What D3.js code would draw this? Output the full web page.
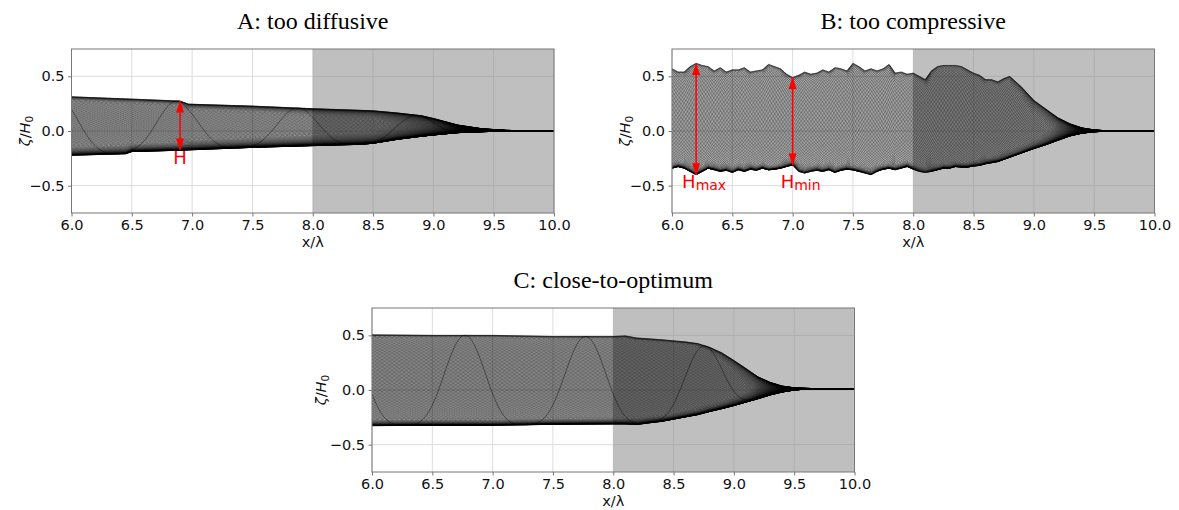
<!DOCTYPE html>
<html>
<head>
<meta charset="utf-8">
<script src="https://cdn.jsdelivr.net/npm/d3@7"></script>
<style>
  html, body { margin: 0; padding: 0; background: #fff; }
  svg { display: block; }
</style>
</head>
<body>
<svg id="chart" width="1179" height="510"></svg>
<script>
// ---------------------------------------------------------------
// Free-surface envelopes (crest / trough of zeta/H0) along x/lambda
// ---------------------------------------------------------------
const xA      = [6.0, 6.45, 6.5, 6.9, 6.97, 7.5, 8.0, 8.4, 8.5, 8.7, 8.9, 9.0, 9.2, 9.4, 9.6, 9.8, 10.0];
const crestA  = [0.313, 0.294, 0.292, 0.274, 0.246, 0.228, 0.204, 0.189, 0.185, 0.165, 0.14, 0.115, 0.055, 0.021, 0.006, 0.001, 0.0];
const troughA = [-0.222, -0.208, -0.188, -0.176, -0.173, -0.15, -0.134, -0.122, -0.112, -0.076, -0.048, -0.036, -0.015, -0.006, -0.001, 0.0, 0.0];

const xB = [6.0, 6.05, 6.1, 6.15, 6.2, 6.25, 6.3, 6.35, 6.4, 6.45, 6.5, 6.55, 6.6, 6.65, 6.7, 6.75, 6.8, 6.85, 6.9, 6.95,
            7.0, 7.05, 7.1, 7.15, 7.2, 7.25, 7.3, 7.35, 7.4, 7.45, 7.5, 7.55, 7.6, 7.65, 7.7, 7.75, 7.8, 7.85, 7.9, 7.95,
            8.0, 8.05, 8.1, 8.15, 8.2, 8.25, 8.3, 8.35, 8.4, 8.45, 8.5, 8.55, 8.6, 8.65, 8.7, 8.75, 8.8, 8.85, 8.9, 8.95,
            9.0, 9.1, 9.2, 9.3, 9.4, 9.5, 9.6, 9.7, 10.0];
const crestB = [0.57, 0.54, 0.54, 0.59, 0.62, 0.60, 0.59, 0.55, 0.58, 0.54, 0.56, 0.56, 0.58, 0.54, 0.55, 0.56, 0.61, 0.59, 0.57, 0.52,
                0.49, 0.51, 0.54, 0.52, 0.53, 0.56, 0.54, 0.58, 0.57, 0.55, 0.62, 0.59, 0.55, 0.57, 0.55, 0.57, 0.61, 0.53, 0.54, 0.52,
                0.53, 0.50, 0.47, 0.55, 0.59, 0.60, 0.60, 0.60, 0.59, 0.56, 0.53, 0.51, 0.47, 0.47, 0.45, 0.48, 0.50, 0.45, 0.40, 0.34,
                0.28, 0.20, 0.12, 0.065, 0.028, 0.01, 0.002, 0.0, 0.0];
const troughB = [-0.34, -0.325, -0.34, -0.37, -0.40, -0.37, -0.34, -0.355, -0.37, -0.36, -0.38, -0.355, -0.37, -0.35, -0.36, -0.34, -0.355, -0.35, -0.34, -0.325,
                 -0.31, -0.37, -0.385, -0.37, -0.36, -0.37, -0.355, -0.38, -0.36, -0.35, -0.355, -0.37, -0.385, -0.40, -0.37, -0.35, -0.34, -0.355, -0.34, -0.325,
                 -0.35, -0.37, -0.38, -0.37, -0.355, -0.34, -0.34, -0.325, -0.33, -0.33, -0.32, -0.315, -0.30, -0.29, -0.28, -0.26, -0.24, -0.22, -0.20, -0.18,
                 -0.16, -0.125, -0.085, -0.045, -0.02, -0.007, -0.002, 0.0, 0.0];

const xC      = [6.0, 6.5, 7.0, 7.5, 8.0, 8.1, 8.2, 8.3, 8.4, 8.5, 8.6, 8.7, 8.8, 8.9, 9.0, 9.1, 9.2, 9.3, 9.4, 9.5, 9.6, 9.7, 10.0];
const crestC  = [0.505, 0.50, 0.50, 0.49, 0.49, 0.495, 0.475, 0.468, 0.46, 0.45, 0.44, 0.425, 0.39, 0.34, 0.27, 0.196, 0.12, 0.07, 0.036, 0.02, 0.015, 0.012, 0.012];
const troughC = [-0.326, -0.323, -0.323, -0.314, -0.31, -0.31, -0.315, -0.30, -0.287, -0.266, -0.245, -0.225, -0.196, -0.17, -0.142, -0.11, -0.08, -0.045, -0.018, 0.0, 0.009, 0.012, 0.012];

// Axis ticks
const xTicks = [6.0, 6.5, 7.0, 7.5, 8.0, 8.5, 9.0, 9.5, 10.0];
const yTicks = [-0.5, 0.0, 0.5];

// Absorbing zone (shaded) and the wave record: snapshots per period,
// phase where the record overlaps itself, and whether it does
const spongeStart = 8.0;
const snapshotCount = { A: 96, B: 84, C: 96 };
const overlapPhase  = { A: 0.88, B: 0.2, C: 0.77 };
const overlapping   = { A: true, B: false, C: true };
const lineOpacity   = { A: 0.85, B: 0.8, C: 0.85 };

// Height markers: [x, top, bottom] and label placement
const markerA = [{ x: 6.9, top: 0.274, bottom: -0.173, label: "H", sub: "", ly: -0.30 }];
const markerB = [
  { x: 6.2, top: 0.617, bottom: -0.40, label: "H", sub: "max", ly: -0.52 },
  { x: 7.0, top: 0.49, bottom: -0.31, label: "H", sub: "min", ly: -0.52 }
];

const panels = [
  { key: "A", title: "A: too diffusive",    left: 71.5, top: 49,  xs: xA, crest: crestA, trough: troughA, markers: markerA, ylabOff: 42 },
  { key: "B", title: "B: too compressive",  left: 672,  top: 49,  xs: xB, crest: crestB, trough: troughB, markers: markerB, ylabOff: 42 },
  { key: "C", title: "C: close-to-optimum", left: 372,  top: 308, xs: xC, crest: crestC, trough: troughC, markers: [],      ylabOff: 46 }
];

const W = 482.5, H = 164;
const svg = d3.select("#chart");
const defs = svg.append("defs");

defs.append("marker")
  .attr("id", "redHead")
  .attr("viewBox", "0 0 12 8")
  .attr("refX", 11.5).attr("refY", 4)
  .attr("markerWidth", 12).attr("markerHeight", 8)
  .attr("markerUnits", "userSpaceOnUse")
  .attr("orient", "auto-start-reverse")
  .append("path").attr("d", "M0,0 L12,4 L0,8 Z").attr("fill", "#ff0000");

panels.forEach(p => {
  const x = d3.scaleLinear().domain([6, 10]).range([0, W]);
  const y = d3.scaleLinear().domain([-0.75, 0.75]).range([H, 0]);
  const g = svg.append("g").attr("transform", `translate(${p.left},${p.top})`);

  defs.append("clipPath").attr("id", "clip" + p.key)
    .append("rect").attr("width", W).attr("height", H);

  // grid
  const grid = g.append("g");
  grid.selectAll(".gx").data(xTicks).join("line")
    .attr("x1", d => x(d)).attr("x2", d => x(d)).attr("y1", 0).attr("y2", H)
    .attr("stroke", "#dcdcdc").attr("stroke-width", 1);
  grid.selectAll(".gy").data(yTicks).join("line")
    .attr("x1", 0).attr("x2", W).attr("y1", d => y(d)).attr("y2", d => y(d))
    .attr("stroke", "#dcdcdc").attr("stroke-width", 1);

  // shaded absorbing zone
  g.append("rect")
    .attr("x", x(spongeStart)).attr("y", 0)
    .attr("width", x(10) - x(spongeStart)).attr("height", H)
    .attr("fill", "#808080").attr("fill-opacity", 0.5);

  // wave snapshots over one period, bounded by the crest/trough envelopes
  const up = d3.scaleLinear().domain(p.xs).range(p.crest).clamp(true);
  const lo = d3.scaleLinear().domain(p.xs).range(p.trough).clamp(true);
  const samples = d3.range(0, W * 2 + 1).map(i => {
    const xv = x.invert(i / 2);
    const u = up(xv), l = lo(xv);
    let a = (u - l) / 2, c = (u + l) / 2, d = 0;
    if (c > a / 4) { d = c - a / 4; c = a / 4; }
    if (c < -a / 4) { d = c + a / 4; c = -a / 4; }
    return { xv, a, c, d };
  });
  const line = d3.line().x(s => x(s.xv)).y(s => y(s.z));
  const n = snapshotCount[p.key];
  const phases = d3.range(0, n + (overlapping[p.key] ? 1 : 0)).map(k => overlapPhase[p.key] + k / n);
  const waves = g.append("g").attr("clip-path", `url(#clip${p.key})`);
  waves.selectAll("path").data(phases).join("path")
    .attr("d", ph => line(samples.map(s => {
      const th = 2 * Math.PI * (s.xv - ph);
      return { xv: s.xv, z: s.d + s.a * Math.cos(th) + s.c * Math.cos(2 * th) };
    })))
    .attr("fill", "none")
    .attr("stroke", "#000")
    .attr("stroke-width", 0.5)
    .attr("stroke-opacity", lineOpacity[p.key]);

  // axes
  const xAxis = d3.axisBottom(x).tickValues(xTicks).tickFormat(d3.format(".1f")).tickSize(3.5).tickPadding(3.5);
  const yAxis = d3.axisLeft(y).tickValues(yTicks).tickFormat(d3.format(".1f")).tickSize(3.5).tickPadding(3.5);
  const gx = g.append("g").attr("transform", `translate(0,${H})`).call(xAxis);
  const gy = g.append("g").call(yAxis);
  [gx, gy].forEach(ax => {
    ax.select(".domain").remove();
    ax.selectAll("line").attr("stroke", "#777");
    ax.selectAll("text").attr("font-family", "DejaVu Sans").attr("font-size", 14.5).attr("fill", "#111");
  });

  // frame
  g.append("rect").attr("width", W).attr("height", H)
    .attr("fill", "none").attr("stroke", "#777").attr("stroke-width", 1);

  // titles and labels
  svg.append("text")
    .attr("x", p.left + W / 2).attr("y", p.top - 20)
    .attr("text-anchor", "middle")
    .attr("font-family", "Liberation Serif").attr("font-size", 24).attr("fill", "#000")
    .text(p.title);

  svg.append("text")
    .attr("x", p.left + W / 2).attr("y", p.top + H + 34)
    .attr("text-anchor", "middle")
    .attr("font-family", "DejaVu Sans").attr("font-size", 14.5).attr("fill", "#111")
    .text("x/λ");

  const yl = svg.append("text")
    .attr("transform", `translate(${p.left - p.ylabOff},${p.top + H / 2}) rotate(-90)`)
    .attr("text-anchor", "middle")
    .attr("font-family", "DejaVu Sans").attr("font-size", 14.5).attr("fill", "#111");
  yl.append("tspan").attr("font-style", "italic").text("ζ");
  yl.append("tspan").text("/");
  yl.append("tspan").attr("font-style", "italic").text("H");
  yl.append("tspan").attr("font-size", 10.5).attr("dy", 3).text("0");

  // wave height markers
  p.markers.forEach(m => {
    g.append("line")
      .attr("x1", x(m.x)).attr("x2", x(m.x))
      .attr("y1", y(m.top)).attr("y2", y(m.bottom))
      .attr("stroke", "#ff0000").attr("stroke-width", 1.5)
      .attr("marker-start", "url(#redHead)").attr("marker-end", "url(#redHead)");
    const t = g.append("text")
      .attr("x", x(m.x) + (m.sub ? 8 : 0)).attr("y", y(m.ly))
      .attr("text-anchor", "middle")
      .attr("font-family", "DejaVu Sans").attr("font-size", 18).attr("fill", "#ff0000");
    t.append("tspan").text(m.label);
    if (m.sub) t.append("tspan").attr("font-size", 14).attr("dy", 2).text(m.sub);
  });
});
</script>
</body>
</html>
